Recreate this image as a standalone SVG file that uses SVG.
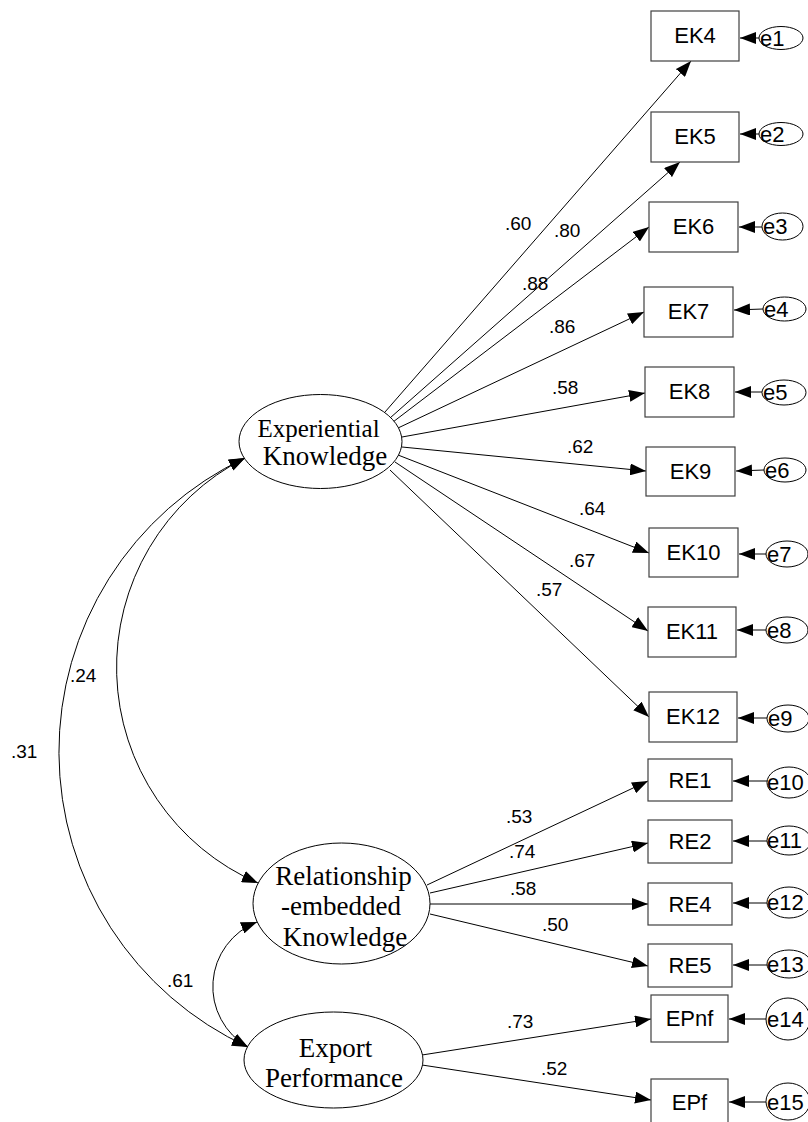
<svg xmlns="http://www.w3.org/2000/svg" width="808" height="1122" viewBox="0 0 808 1122">
<style>
.box{fill:#fff;stroke:#404040;stroke-width:1.2}
.lat{fill:#fff;stroke:#000;stroke-width:1}
.err{fill:#fff;stroke:#000;stroke-width:1}
.bt{font-family:"Liberation Sans",Arial,sans-serif;font-size:22px;fill:#000;text-anchor:middle}
.et{font-family:"Liberation Sans",Arial,sans-serif;font-size:22px;fill:#000}
.lt{font-family:"Liberation Serif","Times New Roman",serif;font-size:27px;fill:#000;text-anchor:middle}
.pl{font-family:"Liberation Sans",Arial,sans-serif;font-size:19px;fill:#000}
.c{fill:none;stroke:#000;stroke-width:1}
</style>
<defs>
<marker id="arr" viewBox="0 0 16 12" refX="16" refY="6" markerWidth="16" markerHeight="12" markerUnits="userSpaceOnUse" orient="auto"><path d="M0,0 L16,6 L0,12 z" fill="#000"/></marker>
<marker id="arrS" viewBox="0 0 16 12" refX="16" refY="6" markerWidth="16" markerHeight="12" markerUnits="userSpaceOnUse" orient="auto-start-reverse"><path d="M0,0 L16,6 L0,12 z" fill="#000"/></marker>
</defs>

<g id="connectors">
<path class="c" d="M385,412 L691,61" marker-end="url(#arr)"/>
<path class="c" d="M390,418 L680,162" marker-end="url(#arr)"/>
<path class="c" d="M393,422 L649,227" marker-end="url(#arr)"/>
<path class="c" d="M398,428 L644,312" marker-end="url(#arr)"/>
<path class="c" d="M402,437 L645,393" marker-end="url(#arr)"/>
<path class="c" d="M402,447 L646,471" marker-end="url(#arr)"/>
<path class="c" d="M398,455 L649,553" marker-end="url(#arr)"/>
<path class="c" d="M395,462 L648,631" marker-end="url(#arr)"/>
<path class="c" d="M390,470 L649,717" marker-end="url(#arr)"/>
<path class="c" d="M427,885 L648,781" marker-end="url(#arr)"/>
<path class="c" d="M430,893 L648,843" marker-end="url(#arr)"/>
<path class="c" d="M430,904 L648,904" marker-end="url(#arr)"/>
<path class="c" d="M430,914 L648,966" marker-end="url(#arr)"/>
<path class="c" d="M422,1055 L651,1019" marker-end="url(#arr)"/>
<path class="c" d="M422,1065 L651,1100" marker-end="url(#arr)"/>
<path class="c" d="M245,458 A325,325 0 0 0 248,1047" marker-start="url(#arrS)" marker-end="url(#arrS)"/>
<path class="c" d="M245,458 A235,235 0 0 0 258,883" marker-start="url(#arrS)" marker-end="url(#arrS)"/>
<path class="c" d="M257,922 A69.4,69.4 0 0 0 248,1047" marker-start="url(#arrS)" marker-end="url(#arrS)"/>
<path class="c" d="M759,38 L740,38" marker-end="url(#arr)"/>
<path class="c" d="M759,134 L740,134" marker-end="url(#arr)"/>
<path class="c" d="M762,227 L739,227" marker-end="url(#arr)"/>
<path class="c" d="M763,309 L734,310" marker-end="url(#arr)"/>
<path class="c" d="M762,392 L735,392" marker-end="url(#arr)"/>
<path class="c" d="M764,470 L736,471" marker-end="url(#arr)"/>
<path class="c" d="M766,554 L739,554" marker-end="url(#arr)"/>
<path class="c" d="M766,630 L737,630" marker-end="url(#arr)"/>
<path class="c" d="M767,718 L738,718" marker-end="url(#arr)"/>
<path class="c" d="M767,781 L733,781" marker-end="url(#arr)"/>
<path class="c" d="M767,841 L733,841" marker-end="url(#arr)"/>
<path class="c" d="M767,903 L733,903" marker-end="url(#arr)"/>
<path class="c" d="M767,965 L733,965" marker-end="url(#arr)"/>
<path class="c" d="M766,1019 L729,1019" marker-end="url(#arr)"/>
<path class="c" d="M766,1102 L729,1102" marker-end="url(#arr)"/>
</g>

<g id="path-labels">
<text class="pl" x="505" y="230">.60</text>
<text class="pl" x="554" y="237">.80</text>
<text class="pl" x="522" y="290">.88</text>
<text class="pl" x="549" y="333">.86</text>
<text class="pl" x="552" y="394">.58</text>
<text class="pl" x="567" y="453">.62</text>
<text class="pl" x="579" y="515">.64</text>
<text class="pl" x="569" y="567">.67</text>
<text class="pl" x="536" y="596">.57</text>
<text class="pl" x="506" y="823">.53</text>
<text class="pl" x="509" y="858">.74</text>
<text class="pl" x="510" y="895">.58</text>
<text class="pl" x="542" y="931">.50</text>
<text class="pl" x="507" y="1028">.73</text>
<text class="pl" x="541" y="1075">.52</text>
<text class="pl" x="70" y="682">.24</text>
<text class="pl" x="11" y="758">.31</text>
<text class="pl" x="167" y="987">.61</text>
</g>

<g id="EK">
<ellipse class="lat" cx="320.5" cy="441.5" rx="81.5" ry="47"/>
<text class="lt" x="318.5" y="437" style="font-size:25px">Experiential</text>
<text class="lt" x="325" y="465">Knowledge</text>
</g>
<g id="REK">
<ellipse class="lat" cx="341.5" cy="903.5" rx="88.5" ry="60.5"/>
<text class="lt" x="343.5" y="885">Relationship</text>
<text class="lt" x="341" y="915">-embedded</text>
<text class="lt" x="345" y="946">Knowledge</text>
</g>
<g id="EP">
<ellipse class="lat" cx="333.5" cy="1060" rx="89.5" ry="48"/>
<text class="lt" x="335.5" y="1057">Export</text>
<text class="lt" x="334" y="1087">Performance</text>
</g>

<g id="n-EK4"><rect class="box" x="651" y="11" width="88" height="50"/><text class="bt" x="695" y="43">EK4</text></g>
<g id="n-EK5"><rect class="box" x="651" y="112" width="88" height="50"/><text class="bt" x="695" y="144">EK5</text></g>
<g id="n-EK6"><rect class="box" x="649" y="202" width="89" height="50"/><text class="bt" x="693.5" y="234">EK6</text></g>
<g id="n-EK7"><rect class="box" x="644" y="287" width="89" height="50"/><text class="bt" x="688.5" y="319">EK7</text></g>
<g id="n-EK8"><rect class="box" x="645" y="367" width="89" height="50"/><text class="bt" x="689.5" y="399">EK8</text></g>
<g id="n-EK9"><rect class="box" x="646" y="447" width="89" height="49"/><text class="bt" x="690.5" y="479">EK9</text></g>
<g id="n-EK10"><rect class="box" x="649" y="528" width="89" height="49"/><text class="bt" x="693.5" y="560">EK10</text></g>
<g id="n-EK11"><rect class="box" x="648" y="607" width="88" height="50"/><text class="bt" x="692" y="639">EK11</text></g>
<g id="n-EK12"><rect class="box" x="649" y="692" width="88" height="50"/><text class="bt" x="693" y="724">EK12</text></g>
<g id="n-RE1"><rect class="box" x="648" y="759" width="84" height="42"/><text class="bt" x="690" y="788">RE1</text></g>
<g id="n-RE2"><rect class="box" x="648" y="820" width="84" height="43"/><text class="bt" x="690" y="849">RE2</text></g>
<g id="n-RE4"><rect class="box" x="648" y="883" width="84" height="42"/><text class="bt" x="690" y="912">RE4</text></g>
<g id="n-RE5"><rect class="box" x="648" y="944" width="84" height="43"/><text class="bt" x="690" y="973">RE5</text></g>
<g id="n-EPnf"><rect class="box" x="651" y="995" width="77" height="47"/><text class="bt" x="689.5" y="1026">EPnf</text></g>
<g id="n-EPf"><rect class="box" x="651" y="1079" width="77" height="47"/><text class="bt" x="689.5" y="1110">EPf</text></g>

<g id="n-e1"><ellipse class="err" cx="781" cy="38" rx="22" ry="11.5"/><text class="et" x="760" y="46">e1</text></g>
<g id="n-e2"><ellipse class="err" cx="781" cy="134" rx="22" ry="11.5"/><text class="et" x="760" y="142">e2</text></g>
<g id="n-e3"><ellipse class="err" cx="782.5" cy="226.5" rx="20.5" ry="13.5"/><text class="et" x="763" y="234">e3</text></g>
<g id="n-e4"><ellipse class="err" cx="784.5" cy="309" rx="21.5" ry="12"/><text class="et" x="764" y="317">e4</text></g>
<g id="n-e5"><ellipse class="err" cx="784" cy="392.5" rx="22" ry="12.5"/><text class="et" x="763" y="400">e5</text></g>
<g id="n-e6"><ellipse class="err" cx="785" cy="470" rx="21" ry="12"/><text class="et" x="765" y="478">e6</text></g>
<g id="n-e7"><ellipse class="err" cx="787" cy="554" rx="21" ry="13"/><text class="et" x="767" y="562">e7</text></g>
<g id="n-e8"><ellipse class="err" cx="787" cy="630" rx="21" ry="13"/><text class="et" x="767" y="638">e8</text></g>
<g id="n-e9"><ellipse class="err" cx="788" cy="718.5" rx="21" ry="13.5"/><text class="et" x="768" y="726">e9</text></g>
<g id="n-e10"><ellipse class="err" cx="789" cy="782.5" rx="22" ry="15.5"/><text class="et" x="767" y="790">e10</text></g>
<g id="n-e11"><ellipse class="err" cx="789" cy="840.5" rx="22" ry="14.5"/><text class="et" x="767" y="848">e11</text></g>
<g id="n-e12"><ellipse class="err" cx="789" cy="902.5" rx="22" ry="15.5"/><text class="et" x="767" y="910">e12</text></g>
<g id="n-e13"><ellipse class="err" cx="789" cy="964" rx="22" ry="14"/><text class="et" x="767" y="972">e13</text></g>
<g id="n-e14"><ellipse class="err" cx="788" cy="1019" rx="22" ry="21"/><text class="et" x="767" y="1027">e14</text></g>
<g id="n-e15"><ellipse class="err" cx="788" cy="1101.5" rx="22" ry="18.5"/><text class="et" x="767" y="1110">e15</text></g>
</svg>
